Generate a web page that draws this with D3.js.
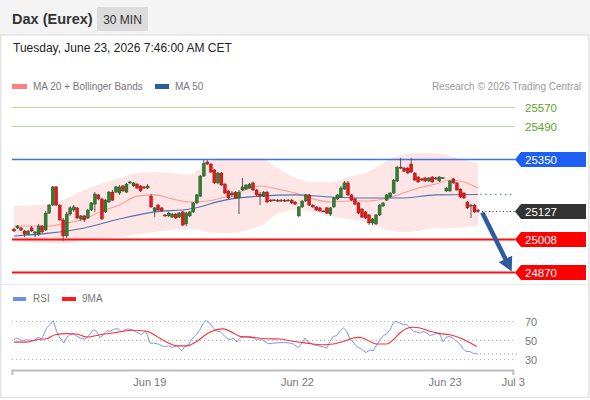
<!DOCTYPE html>
<html><head><meta charset="utf-8">
<script src="https://cdn.jsdelivr.net/npm/d3@7"></script>
<style>
html,body{margin:0;padding:0;background:#fff;}
svg{display:block;font-family:"Liberation Sans",Arial,Helvetica,sans-serif;}
</style></head>
<body><svg id="c" width="590" height="400"></svg>
<script>
// ---------- data ----------
const title = "Dax (Eurex)";
const period = "30 MIN";
const dateText = "Tuesday, June 23, 2026 7:46:00 AM CET";
const credit = "Research \u00a9 2026 Trading Central";

const open = [25052,25057,25057,25044,25031,25057,25035,25031,25065,25048,
25120,25154,25231,25154,25091,25023,25116,25133,25142,25095,
25108,25099,25133,25158,25197,25180,25125,25167,25209,25209,
25205,25235,25209,25248,25235,25243,25235,25231,25226,25192,
25129,25154,25142,25112,25108,25103,25116,25103,25125,25074,
25108,25125,25163,25192,25277,25337,25328,25303,25248,25290,
25243,25214,25197,25209,25184,25218,25222,25226,25248,25218,
25201,25192,25209,25175,25175,25175,25171,25175,25171,25175,
25167,25108,25146,25171,25197,25154,25146,25142,25129,25142,
25116,25146,25180,25188,25222,25248,25197,25180,25163,25137,
25125,25112,25078,25074,25112,25150,25175,25188,25205,25256,
25315,25311,25311,25328,25290,25273,25265,25269,25256,25273,
25269,25256,25269,25214,25214,25265,25248,25222,25205,25167,
25150,25154,25133];
const close = [25044,25065,25048,25031,25044,25044,25040,25065,25040,25120,
25154,25231,25154,25091,25023,25116,25142,25146,25099,25108,
25091,25133,25163,25201,25180,25095,25175,25209,25175,25231,
25231,25214,25243,25252,25248,25226,25214,25226,25235,25146,
25142,25133,25129,25108,25120,25116,25099,25120,25069,25120,
25125,25163,25197,25277,25332,25328,25294,25248,25290,25239,
25205,25184,25205,25184,25209,25231,25239,25243,25218,25197,
25192,25209,25167,25171,25176,25171,25175,25171,25175,25163,
25158,25146,25171,25197,25154,25146,25133,25129,25128,25120,
25142,25184,25197,25226,25248,25197,25175,25158,25120,25103,
25099,25078,25095,25112,25154,25163,25197,25205,25260,25315,
25311,25298,25290,25294,25260,25252,25260,25256,25269,25252,
25265,25273,25270,25226,25256,25248,25218,25188,25184,25142,
25154,25125,25127];
const high = [25057,25069,25061,25048,25048,25065,25044,25074,25069,25129,
25158,25235,25235,25158,25099,25125,25150,25154,25146,25112,
25112,25137,25167,25209,25201,25184,25180,25214,25218,25235,
25239,25239,25248,25256,25252,25248,25239,25235,25243,25201,
25146,25158,25146,25116,25125,25120,25120,25125,25129,25125,
25129,25167,25201,25282,25345,25345,25332,25307,25294,25294,
25248,25218,25214,25214,25218,25269,25243,25248,25252,25222,
25209,25214,25214,25180,25180,25180,25180,25180,25180,25180,
25171,25150,25175,25201,25201,25158,25150,25146,25133,25146,
25146,25188,25201,25235,25256,25256,25201,25184,25167,25142,
25129,25116,25099,25116,25158,25167,25201,25209,25265,25320,
25354,25315,25315,25354,25294,25277,25269,25273,25273,25277,
25273,25277,25273,25231,25260,25269,25252,25226,25209,25171,
25158,25158,25137];
const low = [25040,25052,25044,25018,25027,25040,25018,25023,25035,25044,
25116,25150,25150,25086,25002,25014,25108,25125,25095,25086,
25082,25095,25129,25125,25175,25091,25120,25163,25171,25205,
25197,25209,25205,25243,25231,25222,25209,25222,25222,25142,
25103,25129,25125,25103,25103,25099,25095,25099,25065,25065,
25103,25120,25158,25188,25273,25324,25290,25243,25243,25235,
25201,25180,25188,25180,25116,25214,25218,25222,25214,25192,
25154,25188,25163,25167,25171,25167,25167,25167,25171,25158,
25154,25103,25142,25167,25150,25142,25129,25125,25125,25116,
25108,25142,25175,25184,25218,25192,25171,25154,25116,25099,
25095,25069,25069,25069,25108,25146,25171,25184,25201,25252,
25307,25294,25286,25290,25256,25248,25256,25252,25252,25248,
25260,25252,25265,25209,25209,25243,25214,25184,25180,25137,
25099,25120,25120];

// moving averages / Bollinger bands read at candle indices
const ma20T = [0,10,15,20,25,30,35,40,45,50,55,60,65,70,75,80,85,90,95,100,105,110,115,120,124,128,132];
const ma20V = [25065,25065,25078,25095,25129,25154,25192,25197,25180,25167,25171,25188,25214,25235,25222,25205,25180,25167,25171,25171,25180,25201,25226,25243,25260,25252,25226];
const ma50T = [0,10,20,30,40,50,60,70,80,90,100,110,120,132];
const ma50V = [25023,25035,25057,25095,25125,25137,25175,25192,25197,25188,25184,25184,25197,25199];
const bbT = [0,10,15,20,30,35,40,45,50,55,60,70,75,80,85,90,95,100,105,110,115,120,125,132];
const bbUpper = [25150,25158,25184,25218,25269,25290,25294,25290,25282,25337,25354,25354,25311,25269,25252,25252,25273,25290,25332,25366,25375,25375,25358,25332];
const bbLower = [25002,24993,24993,25006,25018,25030,25040,25048,25052,25040,25035,25065,25116,25133,25125,25108,25095,25082,25052,25040,25044,25057,25057,25065];

// key levels
const levelValues = [25570, 25490, 25350, 25127, 25008, 24870];
const levelTypes  = ["res", "res", "pivot", "last", "sup", "sup"];

// RSI (14) and its 9-period MA, read at candle indices
const rsiT = [0,0.8,2.2,3.6,5.5,6.9,7.9,9.3,10.2,11.2,12.1,13.1,14.2,15,15.9,16.9,18,19.3,20.2,21.1,22.6,23.5,24.5,25.4,26.4,27.3,28.7,29.7,30.6,31.6,32.5,33.5,34.4,35.4,36.3,37.3,37.9,38.7,39.6,41.1,42.5,43.9,44.9,46.3,47.7,48.6,49.6,50.6,52,52.9,53.9,54.6,55.6,56.7,57.7,58.6,59.5,60.5,61.5,62.4,63.4,64.3,65.7,67.1,68.1,69,70.5,71.4,72.4,73.8,76.6,78.5,79.5,80.9,81.9,82.8,83.7,85.2,86.6,88,89,89.9,90.8,91.8,92.7,93.7,94.7,95.6,96.5,97.5,98.9,100.1,101.3,102.2,103.2,104.1,105.1,106,107,107.9,108.7,109.6,110.8,111.7,112.7,113.6,114.6,115.5,116.4,117.4,118.3,119.3,120.2,121.2,122.1,122.9,123.8,124.8,125.7,126.7,127.6,128.6,129.7,130.7,131.8,132];
const rsiV = [50,51.8,49.2,50,48.9,52.5,51.1,62.6,66.2,70.5,59,51.8,46.4,52.5,55.4,56.1,53.6,51.1,50.8,53.6,60.8,59,51.8,55.4,59.7,59,61.6,61.6,58.3,60.8,61.6,60.8,59,57.2,55.4,59,55.4,46.4,46.4,45.4,42.8,43.5,41.7,43.5,38.1,42.8,44.6,50.8,56.1,60.8,68.1,70.5,68.1,62.6,59,59,55.4,51.8,50,51.8,47.5,51.8,53.6,53.6,51.8,50,50,48.2,45.7,46.4,47.1,46.4,45.4,41.7,46.4,51.8,47.5,44.6,43.5,42.4,41,48.2,53.6,54.3,59,62.6,59,50,47.5,42.8,39.9,36.3,39.2,38.1,44.6,50,54.6,56.1,60.8,68.1,69.8,68.1,66.2,66.2,62.6,59,58.3,57.2,59,57.2,54.6,55.4,57.2,55.4,47.5,52.5,53.6,51.8,48.9,46.4,41,37.4,37.4,35.6,34.9,34.7];
const ma9T = [0,3.6,6.5,9.3,11.7,15,17.8,20.7,24.5,29.2,33.9,37.8,40.6,43.4,46.3,49.1,52,54.8,57.7,59.5,62.4,64.3,68.1,71.9,75.7,78.5,83.3,88,90.8,93.7,96.5,98.4,100.3,103.2,106,107.9,109.8,111.7,113.6,115.5,118.3,121.2,124,126.9,129.3,131.6];
const ma9V = [47.5,47.5,50,51.1,55.4,56.5,56.1,52.9,55.4,57.9,60.1,59,53.6,47.5,43.5,43.5,48.2,56.1,60.8,61.6,57.2,53.6,52.5,51.1,50.8,48.9,46.4,44.6,45.4,48.2,51.8,52.5,50,45.4,45.4,50,57.2,61.9,63.3,62.6,59,56.5,55.4,51.8,47.5,42.8];
const rsiTicks = [70, 50, 30];

// time axis
const axisT = [38.5, 80.5, 122.5, 141.9];
const axisLabels = ["Jun 19", "Jun 22", "Jun 23", "Jul 3"];
const axisStart = -0.6;

// forecast arrow (time index, price)
const arrowFrom = [133.2, 25122];
const arrowTo = [141.6, 24872];

// ---------- drawing ----------
const svg = d3.select("#c");
const candles = open.map((o, i) => ({i, o, c: close[i], h: high[i], l: low[i]}));

const x = d3.scaleLinear().domain([0, open.length - 1]).range([14, 478]);
const y = d3.scaleLinear().domain([24870, 25570]).range([272, 107]);
const ry = d3.scaleLinear().domain([30, 70]).range([358.5, 321]);

const LX0 = 12, LX1 = 515;

// frame
svg.append("rect").attr("x", 0).attr("y", 0).attr("width", 590).attr("height", 400).attr("fill", "#fff");
svg.append("rect").attr("x", 0).attr("y", 0).attr("width", 590).attr("height", 35).attr("fill", "#f4f4f4");
svg.append("rect").attr("x", 0.75).attr("y", 35).attr("width", 588).attr("height", 362.5)
  .attr("fill", "none").attr("stroke", "#e4e4e4").attr("stroke-width", 1.5);
svg.append("line").attr("x1", 0).attr("x2", 590).attr("y1", 284.5).attr("y2", 284.5)
  .attr("stroke", "#e8e8e8");

// header
svg.append("text").attr("x", 12).attr("y", 24).attr("font-size", 14.5).attr("font-weight", "bold")
  .attr("fill", "#333").text(title);
svg.append("rect").attr("x", 97).attr("y", 7).attr("width", 51).attr("height", 24).attr("fill", "#dcdcdc");
svg.append("text").attr("x", 122.5).attr("y", 24).attr("text-anchor", "middle").attr("font-size", 12)
  .attr("fill", "#333").text(period);
svg.append("text").attr("x", 13).attr("y", 52).attr("font-size", 12).attr("fill", "#222").text(dateText);

// legend
svg.append("rect").attr("x", 12).attr("y", 84).attr("width", 15).attr("height", 5).attr("fill", "#ff8080");
svg.append("text").attr("x", 33).attr("y", 90).attr("font-size", 10).attr("fill", "#777").text("MA 20 + Bollinger Bands");
svg.append("rect").attr("x", 155).attr("y", 84).attr("width", 14).attr("height", 5).attr("fill", "#2b5c9e");
svg.append("text").attr("x", 175).attr("y", 90).attr("font-size", 10).attr("fill", "#777").text("MA 50");
svg.append("text").attr("x", 581).attr("y", 90).attr("text-anchor", "end").attr("font-size", 10)
  .attr("fill", "#999").text(credit);

// Bollinger band
const bb = bbT.map((t, k) => ({t, u: bbUpper[k], l: bbLower[k]}));
svg.append("path").datum(bb)
  .attr("d", d3.area().x(d => x(d.t)).y0(d => y(d.l)).y1(d => y(d.u)).curve(d3.curveMonotoneX))
  .attr("fill", "#ffe3e3").attr("opacity", 0.9);

// level lines
const levelStyle = {
  res:   {line: "#b5dc96", text: "#5aa628", box: null, w: 1},
  pivot: {line: "#3f72e6", text: "#fff", box: "#1f5ff3", w: 1.3},
  last:  {line: null, text: "#fff", box: "#333333", w: 1},
  sup:   {line: "#ff1010", text: "#fff", box: "#ff0000", w: 2}
};
levelValues.forEach((v, k) => {
  const st = levelStyle[levelTypes[k]];
  const yy = Math.round(y(v)) + 0.5;
  if (st.line) {
    svg.append("line").attr("x1", LX0).attr("x2", LX1).attr("y1", yy).attr("y2", yy)
      .attr("stroke", st.line).attr("stroke-width", st.w);
  }
  if (st.box) {
    const pts = [[LX1, yy], [LX1 + 6, yy - 7.5], [586, yy - 7.5], [586, yy + 7.5], [LX1 + 6, yy + 7.5]];
    svg.append("polygon").attr("points", pts.map(p => p.join(",")).join(" ")).attr("fill", st.box);
  }
  svg.append("text").attr("x", 525).attr("y", yy + 4.5).attr("font-size", 11.5)
    .attr("fill", st.text).text(v);
});

// dotted extensions from last candle
const lastI = open.length - 1;
svg.append("line").attr("x1", x(lastI) + 4).attr("x2", LX1).attr("y1", Math.round(y(close[lastI])) + 0.5)
  .attr("y2", Math.round(y(close[lastI])) + 0.5).attr("stroke", "#333").attr("stroke-dasharray", "1,2.5");
svg.append("line").attr("x1", x(lastI) + 2).attr("x2", LX1).attr("y1", y(ma50V[ma50V.length - 1]))
  .attr("y2", y(ma50V[ma50V.length - 1])).attr("stroke", "#6a8fcf").attr("stroke-dasharray", "1.5,3.5").attr("stroke-width", 1.2);

// moving averages
svg.append("path").datum(ma20T.map((t, k) => [t, ma20V[k]]))
  .attr("d", d3.line().x(d => x(d[0])).y(d => y(d[1])).curve(d3.curveMonotoneX))
  .attr("fill", "none").attr("stroke", "#ff9a9a").attr("stroke-width", 1.1);
svg.append("path").datum(ma50T.map((t, k) => [t, ma50V[k]]))
  .attr("d", d3.line().x(d => x(d[0])).y(d => y(d[1])).curve(d3.curveMonotoneX))
  .attr("fill", "none").attr("stroke", "#4d72b3").attr("stroke-width", 1.1);

// candles
const cg = svg.append("g");
cg.selectAll("line.w").data(candles).join("line")
  .attr("x1", d => x(d.i)).attr("x2", d => x(d.i)).attr("y1", d => y(d.h)).attr("y2", d => y(d.l))
  .attr("stroke", "#555").attr("stroke-width", 1);
cg.selectAll("rect.b").data(candles).join("rect")
  .attr("x", d => x(d.i) - 1.5).attr("width", 3)
  .attr("y", d => y(Math.max(d.o, d.c)))
  .attr("height", d => Math.max(1, Math.abs(y(d.o) - y(d.c))))
  .attr("fill", d => d.c >= d.o ? "#2f7f2f" : "#e41a1a")
  .attr("stroke", d => d.c >= d.o ? "#1d4f1d" : "#8a1010").attr("stroke-width", 0.4);

// forecast arrow
{
  const x0 = x(arrowFrom[0]), y0 = y(arrowFrom[1]);
  const x1 = x(arrowTo[0]), y1 = y(arrowTo[1]);
  const dx = x1 - x0, dy = y1 - y0, L = Math.hypot(dx, dy);
  const ux = dx / L, uy = dy / L, hl = 14, hw = 7.5;
  const bx = x1 - ux * hl, by = y1 - uy * hl;
  svg.append("line").attr("x1", x0).attr("y1", y0).attr("x2", bx + ux * 2).attr("y2", by + uy * 2)
    .attr("stroke", "#2e5c9c").attr("stroke-width", 4.5);
  svg.append("polygon").attr("points", [[x1, y1], [bx - uy * hw, by + ux * hw], [bx + uy * hw, by - ux * hw]]
    .map(p => p.join(",")).join(" ")).attr("fill", "#2e5c9c");
}

// RSI panel legend
svg.append("rect").attr("x", 13).attr("y", 297).attr("width", 13).attr("height", 4).attr("fill", "#6f8fe6");
svg.append("text").attr("x", 33).attr("y", 302).attr("font-size", 10).attr("fill", "#777").text("RSI");
svg.append("rect").attr("x", 62).attr("y", 297).attr("width", 14).attr("height", 4).attr("fill", "#ff1a1a");
svg.append("text").attr("x", 82).attr("y", 302).attr("font-size", 10).attr("fill", "#777").text("9MA");

rsiTicks.forEach(v => {
  const yy = Math.round(ry(v)) + 0.5;
  svg.append("line").attr("x1", LX0).attr("x2", LX1).attr("y1", yy).attr("y2", yy)
    .attr("stroke", "#b8b8b8").attr("stroke-dasharray", "1,3");
  svg.append("text").attr("x", 525).attr("y", yy + 4).attr("font-size", 11).attr("fill", "#777").text(v);
});

svg.append("path").datum(rsiT.map((t, k) => [t, rsiV[k]]))
  .attr("d", d3.line().x(d => x(d[0])).y(d => ry(d[1])))
  .attr("fill", "none").attr("stroke", "#7b98ea").attr("stroke-width", 1);
svg.append("path").datum(ma9T.map((t, k) => [t, ma9V[k]]))
  .attr("d", d3.line().x(d => x(d[0])).y(d => ry(d[1])).curve(d3.curveMonotoneX))
  .attr("fill", "none").attr("stroke", "#ff3030").attr("stroke-width", 1.1);
svg.append("line").attr("x1", x(rsiT[rsiT.length - 1]) + 2).attr("x2", LX1 + 2)
  .attr("y1", ry(rsiV[rsiV.length - 1])).attr("y2", ry(rsiV[rsiV.length - 1]))
  .attr("stroke", "#7b98ea").attr("stroke-dasharray", "1,3");

// time axis
const xa = d3.scaleLinear().domain([axisStart, axisT[axisT.length - 1]])
  .range([x(axisStart), x(axisT[axisT.length - 1])]);
const ax = svg.append("g").attr("transform", "translate(0,370)")
  .call(d3.axisBottom(xa).tickValues(axisT).tickFormat((d, i) => axisLabels[i])
    .tickSizeInner(0).tickSizeOuter(5).tickPadding(8));
ax.select(".domain").attr("stroke", "#bdbdbd").attr("stroke-width", 2);
ax.selectAll("text").attr("fill", "#777").attr("font-size", 11)
  .attr("font-family", '"Liberation Sans",Arial,sans-serif');
</script>
</body></html>
